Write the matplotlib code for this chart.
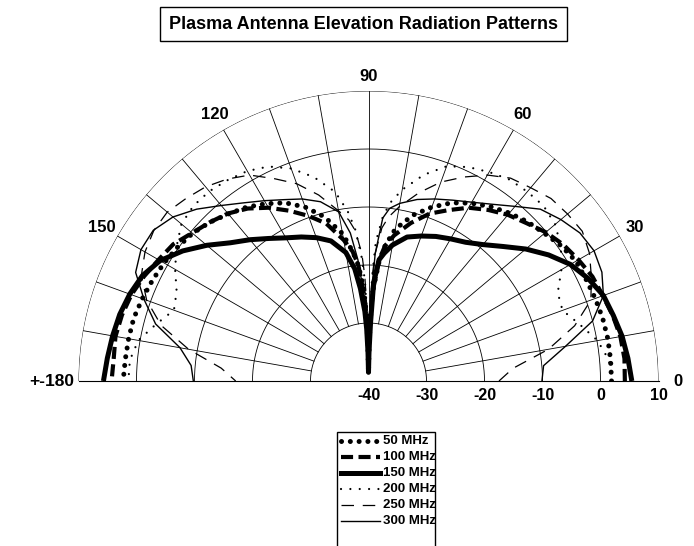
import numpy as np
import matplotlib
matplotlib.use("Agg")
import matplotlib.pyplot as plt
from matplotlib.lines import Line2D
from matplotlib.patches import Rectangle
from matplotlib.transforms import offset_copy

plt.rcParams['font.family'] = ['Liberation Sans', 'DejaVu Sans']

# Angulos de lectura (grados), de 0 (derecha) a 180 (izquierda)
angulos = [0, 5, 10, 15, 20, 25, 30, 35, 40, 45, 50, 55, 60, 65, 70, 75, 80, 83, 85, 87, 88, 89, 90,
           91, 92, 93, 95, 97, 100, 105, 110, 115, 120, 125, 130, 135, 140, 145, 150, 155, 160, 165,
           170, 175, 180]

# Ganancia en dB
mhz_50 = [1.9, 1.9, 1.9, 1.8, 1.6, 1.4, 1.3, 0.6, -0.4, -1.2, -2.2, -3.3, -4.6, -6.1, -8.1, -10.4,
          -13.4, -16.5, -19.5, -24, -28, -33, -38.5,
          -33, -28, -24, -20, -17.5, -14.2, -10.7, -8.1, -6.1, -4.7, -3.4, -2.4, -1.3, -0.4, 0.2,
          0.7, 1.1, 1.5, 1.9, 2.0, 2.1, 2.3]
mhz_100 = [4.2, 4.3, 4.1, 3.6, 3.0, 2.6, 1.8, 1.0, -0.1, -1.5, -2.6, -4.0, -5.5, -7.5, -9.3, -11.8,
           -14.5, -16.5, -19, -24, -28, -33, -38.5,
           -33, -28, -25, -20, -17.5, -15.3, -11.9, -9.7, -7.6, -5.5, -3.7, -2.3, -1.3, -0.3, 1.1,
           1.8, 2.7, 3.5, 4.0, 4.3, 4.1, 4.3]
mhz_150 = [5.4, 4.9, 4.4, 3.7, 3.1, 1.8, 0.2, -2.1, -4.6, -7.2, -9.3, -10.8, -11.7, -12.5, -13.4,
           -14.3, -16.2, -17.8, -19, -23, -30, -35, -38.5,
           -35, -31, -28, -24, -20.5, -17.5, -15.0, -13.7, -12.6, -11.5, -10.0, -8.2, -6.3, -3.6,
           -0.9, 1.5, 3.0, 3.8, 4.4, 4.8, 5.2, 5.7]
mhz_200 = [2.0, 1.6, 0.1, -2.3, -4.4, -4.0, -1.6, 0.5, 2.0, 2.7, 2.6, 2.4, 1.6, 0.7, -0.6, -3.2,
           -6.5, -9, -11.5, -16, -22, -30, -38.5,
           -30, -23, -19, -13.8, -10.5, -6.9, -3.6, -1.0, 0.8, 1.8, 2.3, 2.7, 2.7, 2.1, 0.4,
           -1.5, -3.5, -4.3, -2.1, 0.3, 1.3, 1.4]
mhz_250 = [-17.5, -15, -8.5, -3.2, 0.8, 2.4, 4.0, 5.0, 4.8, 4.5, 3.5, 2.7, 1.0, -1.2, -3.5, -6.4,
           -9.5, -11.5, -13.5, -18, -22, -29, -38.5,
           -29, -22, -18, -14, -12, -10.2, -6.8, -3.8, -1.5, 1.0, 2.5, 3.7, 4.5, 5.3, 5.2,
           4.5, 3.2, 0.7, -3.0, -8.5, -14.5, -17.1]
mhz_300 = [-10.1, -9.7, -5.5, 0.0, 3.1, 4.4, 4.9, 4.5, 3.3, 1.9, -0.7, -2.8, -4.4, -5.6, -6.6, -7.6,
           -8.9, -10, -11.8, -18, -25, -32, -38.5,
           -34, -29, -25, -19, -14.3, -10.4, -8.0, -6.6, -5.5, -4.1, -2.5, -0.5, 1.9, 4.0, 5.3,
           5.3, 4.3, 1.2, -2.0, -7.0, -9.3, -9.8]

series = [mhz_50, mhz_100, mhz_150, mhz_200, mhz_250, mhz_300]
nombres = ['50 MHz', '100 MHz', '150 MHz', '200 MHz', '250 MHz', '300 MHz']
estilos = [
    dict(lw=3.6, ls=(0, (0.01, 1.75)), dash_capstyle='round'),
    dict(lw=3.0, ls=(0, (2.9, 1.3))),
    dict(lw=3.6, ls='-'),
    dict(lw=1.6, ls=(0, (0.01, 4.2)), dash_capstyle='round'),
    dict(lw=0.9, ls=(0, (10, 7))),
    dict(lw=1.0, ls='-'),
]

anillos = [-30, -20, -10, 0, 10]
etiquetas_r = ['-40', '-30', '-20', '-10', '0', '10']
angulos_marca = [0, 30, 60, 90, 120, 150, 180]
etiquetas_ang = ['0', '30', '60', '90', '120', '150', '+-180']

W, H = 694, 546
fig = plt.figure(figsize=(W / 100, H / 100), dpi=100)

# centro del semicirculo en (368.5, 381) px, radio 290 px.
# El eje polar es cuadrado y el semicirculo queda centrado en vertical
cx, cy, R = 368.5, 381, 290
top = cy - 1.5 * R
ax = fig.add_axes([(cx - R) / W, (H - top - 2 * R) / H, 2 * R / W, 2 * R / H], projection='polar')
ax.set_thetamin(0)
ax.set_thetamax(180)
ax.set_ylim(-40, 10)
ax.grid(False)
ax.set_xticks([])
ax.set_yticks([])
for s in ax.spines.values():
    s.set_visible(False)
ax.patch.set_visible(False)

# rejilla propia
th = np.radians(np.linspace(0, 180, 361))
for r in anillos:
    ax.plot(th, np.full_like(th, r), color='black', lw=0.6)
for a in range(0, 181, 10):
    ax.plot([np.radians(a)] * 2, [-30, 10], color='black', lw=0.6)

t = np.radians(angulos)
for datos, est in zip(series, estilos):
    ax.plot(t, datos, color='black', linestyle=est['ls'], linewidth=est['lw'],
            dash_capstyle=est.get('dash_capstyle', 'butt'), solid_capstyle='butt')

# etiquetas de angulo
for a, txt in zip(angulos_marca, etiquetas_ang):
    if a == 0:
        ax.text(0, 12.6, txt, ha='left', va='center', fontsize=12, fontweight='bold')
    elif a == 180:
        ax.text(np.pi, 10.8, txt, ha='right', va='center', fontsize=12.5, fontweight='bold')
    elif a == 90:
        ax.text(np.radians(a), 12.5, txt, ha='center', va='center', fontsize=12, fontweight='bold')
    else:
        ax.text(np.radians(a), 13.0, txt, ha='center', va='center', fontsize=12, fontweight='bold')

# etiquetas radiales bajo la base
tr = offset_copy(ax.transData, fig=fig, x=0, y=-14, units='dots')
for v, txt in zip([-40] + anillos, etiquetas_r):
    ax.text(0, v, txt, transform=tr, ha='center', va='center', fontsize=11.5, fontweight='bold')

# titulo con recuadro
fig.add_artist(Rectangle((160 / W, 1 - 41 / H), 407 / W, 34 / H, transform=fig.transFigure,
                         fill=False, ec='black', lw=1.0))
fig.text(363.5 / W, 1 - 24.5 / H, 'Plasma Antenna Elevation Radiation Patterns', ha='center',
         va='center', fontsize=13, fontweight='bold')

# leyenda manual (el recuadro sigue por debajo del borde)
fig.add_artist(Rectangle((337 / W, -0.05), 98 / W, 0.05 + (H - 432) / H, transform=fig.transFigure,
                         fill=False, ec='black', lw=1.0))
for i, (nom, est) in enumerate(zip(nombres, estilos)):
    y = 1 - (441 + 16 * i) / H
    fig.add_artist(Line2D([341 / W, 380 / W], [y, y], transform=fig.transFigure, color='black',
                          linestyle=est['ls'], linewidth=est['lw'],
                          dash_capstyle=est.get('dash_capstyle', 'butt')))
    fig.text(383 / W, y, nom, ha='left', va='center', fontsize=9.5, fontweight='bold')

fig.savefig('out.png', dpi=100)
